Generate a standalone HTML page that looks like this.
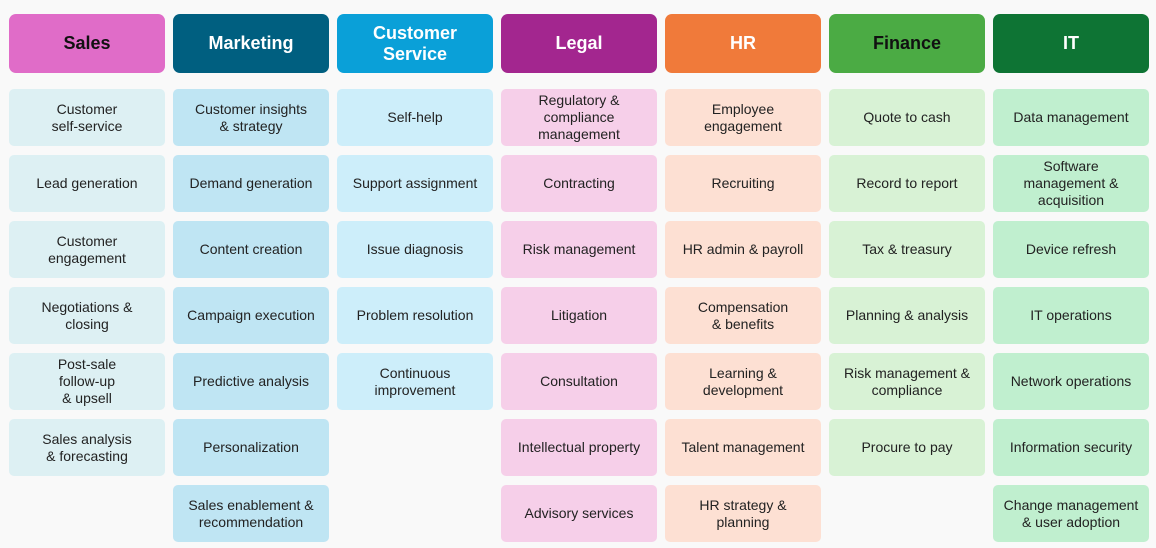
<!DOCTYPE html>
<html><head><meta charset="utf-8"><style>
body{margin:0;width:1156px;height:548px;background:#f9f9f9;font-family:"Liberation Sans",sans-serif;position:relative;overflow:hidden}
.h,.c{position:absolute;width:156px;display:flex;align-items:center;justify-content:center;text-align:center;box-sizing:border-box}
.h{top:14px;height:59px;border-radius:7px;font-size:18px;font-weight:bold;line-height:21px}
.c{height:57px;border-radius:5px;font-size:14px;line-height:17px;color:#222;padding:0 6px}
</style></head><body>
<div id="r"></div>
<script>
const cols=[
["Sales","#e06cc8","#111","#ddf0f3",["Customer<br>self-service","Lead generation","Customer<br>engagement","Negotiations &amp;<br>closing","Post-sale<br>follow-up<br>&amp; upsell","Sales analysis<br>&amp; forecasting"]],
["Marketing","#005f80","#fff","#bfe5f3",["Customer insights<br>&amp; strategy","Demand generation","Content creation","Campaign execution","Predictive analysis","Personalization","Sales enablement &amp;<br>recommendation"]],
["Customer<br>Service","#0aa0d8","#fff","#cdeefa",["Self-help","Support assignment","Issue diagnosis","Problem resolution","Continuous<br>improvement"]],
["Legal","#a3268f","#fff","#f6cfe9",["Regulatory &amp;<br>compliance<br>management","Contracting","Risk management","Litigation","Consultation","Intellectual property","Advisory services"]],
["HR","#f07a3a","#fff","#fde0d3",["Employee<br>engagement","Recruiting","HR admin &amp; payroll","Compensation<br>&amp; benefits","Learning &amp;<br>development","Talent management","HR strategy &amp;<br>planning"]],
["Finance","#4bab44","#111","#d8f2d5",["Quote to cash","Record to report","Tax &amp; treasury","Planning &amp; analysis","Risk management &amp;<br>compliance","Procure to pay"]],
["IT","#0e7434","#fff","#c0efcf",["Data management","Software<br>management &amp;<br>acquisition","Device refresh","IT operations","Network operations","Information security","Change management<br>&amp; user adoption"]]];
let h="";
cols.forEach((c,i)=>{const x=9+i*164;
h+=`<div class="h" style="left:${x}px;background:${c[1]};color:${c[2]}">${c[0]}</div>`;
c[4].forEach((t,j)=>{h+=`<div class="c" style="left:${x}px;top:${89+j*66}px;background:${c[3]}">${t}</div>`;});});
document.getElementById("r").outerHTML=h;
</script>
</body></html>
